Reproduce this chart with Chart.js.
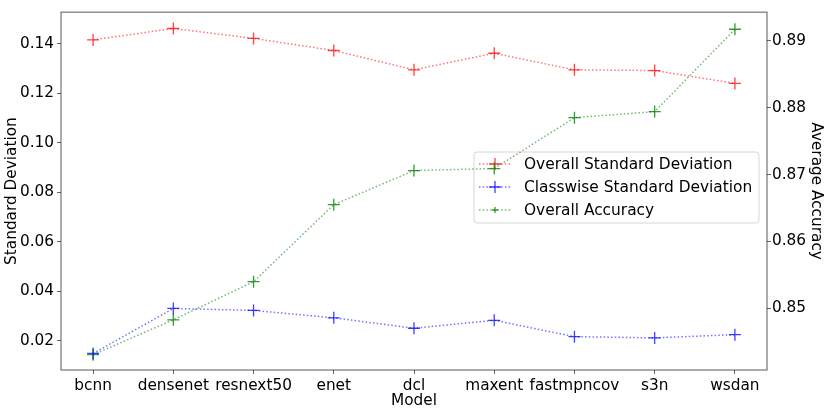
<!DOCTYPE html>
<html>
<head>
<meta charset="utf-8">
<script src="https://cdn.jsdelivr.net/npm/chart.js@4"></script>
<style>
html,body{margin:0;padding:0;background:#fff;}
#wrap{width:831px;height:413px;}
</style>
</head>
<body>
<div id="wrap"><canvas id="c" width="831" height="413"></canvas></div>
<script>
const models = ['bcnn','densenet','resnext50','enet','dcl','maxent','fastmpncov','s3n','wsdan'];
const overallStd = [0.1416,0.1462,0.1422,0.1373,0.1295,0.1362,0.1295,0.1292,0.1240];
const classwiseStd = [0.0148,0.0330,0.0322,0.0292,0.0250,0.0282,0.0216,0.0211,0.0224];
const overallAcc = [0.8431,0.8483,0.8540,0.8655,0.8706,0.8709,0.8785,0.8794,0.8917];
const leftTicks = [0.02,0.04,0.06,0.08,0.10,0.12,0.14];
const rightTicks = [0.85,0.86,0.87,0.88,0.89];
const labels = ['Overall Standard Deviation','Classwise Standard Deviation','Overall Accuracy'];

const FONT = 'DejaVu Sans';
const pts = arr => arr.map((v,i)=>({x:i,y:v}));

const RED='rgba(255,0,0,0.55)', BLUE='rgba(0,0,255,0.55)', GREEN='rgba(0,128,0,0.55)';
const REDM='rgba(255,0,0,0.75)', BLUEM='rgba(0,0,255,0.75)', GREENM='rgba(0,128,0,0.8)';

function ds(label, data, line, mark, axis){
  return {label, data: pts(data), yAxisID: axis, borderColor: line, backgroundColor: mark,
    pointBorderColor: mark, pointStyle:'cross', pointRadius:6, pointBorderWidth:1.3,
    borderWidth:1.5, borderDash:[1.5,2.2], fill:false, tension:0};
}

const framePlugin = {
  id:'frame',
  beforeDatasetsDraw(chart){
    const {ctx, chartArea:a} = chart;
    ctx.save();
    ctx.strokeStyle='rgba(0,0,0,0.55)';
    ctx.lineWidth=1.2;
    ctx.strokeRect(a.left, a.top, a.right-a.left, a.bottom-a.top);
    ctx.restore();
  },
  beforeDatasetDraw(chart, args){
    if(args.index!==2) return;
    const ctx = chart.ctx;
    const x0=474, y0=152, w=285, h=71, r=3;
    ctx.save();
    ctx.beginPath();
    ctx.moveTo(x0+r,y0); ctx.lineTo(x0+w-r,y0); ctx.quadraticCurveTo(x0+w,y0,x0+w,y0+r);
    ctx.lineTo(x0+w,y0+h-r); ctx.quadraticCurveTo(x0+w,y0+h,x0+w-r,y0+h);
    ctx.lineTo(x0+r,y0+h); ctx.quadraticCurveTo(x0,y0+h,x0,y0+h-r);
    ctx.lineTo(x0,y0+r); ctx.quadraticCurveTo(x0,y0,x0+r,y0); ctx.closePath();
    ctx.fillStyle='rgba(255,255,255,0.85)'; ctx.fill();
    ctx.strokeStyle='#d6d6d6'; ctx.lineWidth=1; ctx.stroke();
    const rows=[164,187,210];
    chart.data.datasets.forEach((d,i)=>{
      const y=rows[i];
      ctx.setLineDash([1.5,2.2]);
      ctx.strokeStyle=d.borderColor; ctx.lineWidth=1.5;
      ctx.beginPath(); ctx.moveTo(479,y); ctx.lineTo(511,y); ctx.stroke();
      ctx.setLineDash([]);
      const m = i===2?3:6;
      ctx.strokeStyle=d.pointBorderColor; ctx.lineWidth=1.3;
      ctx.beginPath(); ctx.moveTo(495-m,y); ctx.lineTo(495+m,y); ctx.moveTo(495,y-m); ctx.lineTo(495,y+m); ctx.stroke();
      ctx.fillStyle='#000'; ctx.font='15.4px "'+FONT+'"'; ctx.textBaseline='middle'; ctx.textAlign='left';
      ctx.fillText(d.label, 524, y+1);
    });
    ctx.restore();
  }
};

Chart.defaults.font.family = FONT;
Chart.defaults.font.size = 15.3;
Chart.defaults.color = '#000';

new Chart(document.getElementById('c'), {
  type:'line',
  data:{datasets:[
    ds(labels[0], overallStd, RED, REDM, 'y'),
    ds(labels[1], classwiseStd, BLUE, BLUEM, 'y'),
    ds(labels[2], overallAcc, GREEN, GREENM, 'y1')
  ]},
  options:{
    responsive:false, animation:false, devicePixelRatio:1,
    layout:{padding:{top:5,left:0,right:0,bottom:0}},
    plugins:{legend:{display:false}, tooltip:{enabled:false}},
    scales:{
      x:{type:'linear', min:-0.4, max:8.4,
        afterBuildTicks(s){ s.ticks = models.map((m,i)=>({value:i})); },
        afterFit(s){ s.height=43; },
        ticks:{callback:(v)=>models[v], padding:3, maxRotation:0, autoSkip:false},
        grid:{display:true, drawOnChartArea:false, drawTicks:true, tickLength:4, color:'rgba(0,0,0,0.6)'},
        border:{display:false},
        title:{display:true, text:'Model', padding:{top:0,bottom:3}}
      },
      y:{type:'linear', position:'left', min:0.00811, max:0.1528,
        afterBuildTicks(s){ s.ticks = leftTicks.map(v=>({value:v})); },
        afterFit(s){ s.width=61; },
        ticks:{callback:(v)=>v.toFixed(2), padding:3},
        grid:{display:true, drawOnChartArea:false, drawTicks:true, tickLength:4, color:'rgba(0,0,0,0.6)'},
        border:{display:false},
        title:{display:true, text:'Standard Deviation', padding:{top:3,bottom:0}}
      },
      y1:{type:'linear', position:'right', min:0.84081, max:0.89425,
        afterBuildTicks(s){ s.ticks = rightTicks.map(v=>({value:v})); },
        afterFit(s){ s.width=64; },
        ticks:{callback:(v)=>v.toFixed(2), padding:1},
        grid:{display:true, drawOnChartArea:false, drawTicks:true, tickLength:4, color:'rgba(0,0,0,0.6)'},
        border:{display:false},
        title:{display:true, text:'Average Accuracy', padding:{top:6,bottom:0}}
      }
    }
  },
  plugins:[framePlugin]
});
</script>
</body>
</html>
